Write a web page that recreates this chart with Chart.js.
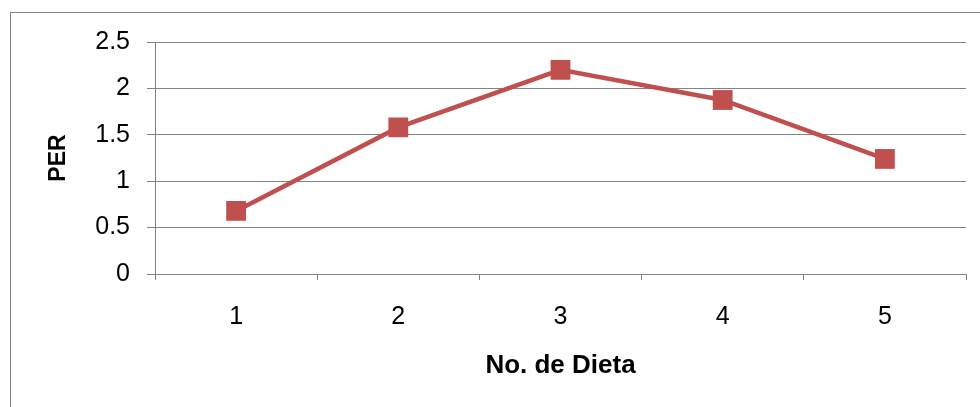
<!DOCTYPE html>
<html>
<head>
<meta charset="utf-8">
<script src="https://cdn.jsdelivr.net/npm/chart.js@4/dist/chart.umd.min.js"></script>
<style>
  html, body { margin: 0; padding: 0; background: #fff; overflow: hidden; }
  #wrap { position: relative; width: 980px; height: 407px; }
  #frame { position: absolute; left: 10px; top: 12px; width: 1000px; height: 500px;
           border: 1px solid #828282; box-sizing: border-box; }
  #c { position: absolute; left: 0; top: 0; }
</style>
</head>
<body>
<div id="wrap">
  <div id="frame"></div>
  <canvas id="c" width="980" height="407"></canvas>
</div>
<script>
// Diet numbers and their protein efficiency ratio
const dietas = ['1', '2', '3', '4', '5'];
const perValues = [0.68, 1.58, 2.20, 1.875, 1.24];
const yTicks = [0, 0.5, 1, 1.5, 2, 2.5];

const axisGray = '#828282';
const seriesRed = '#C0504D';
const fontFamily = '"Liberation Sans", Arial, sans-serif';

new Chart(document.getElementById('c'), {
  type: 'line',
  data: {
    labels: dietas,
    datasets: [{
      data: perValues,
      borderColor: seriesRed,
      backgroundColor: seriesRed,
      borderWidth: 4.5,
      pointStyle: 'rect',
      pointRadius: 14,
      pointBorderWidth: 0,
      pointBackgroundColor: seriesRed,
      tension: 0,
      fill: false
    }]
  },
  options: {
    responsive: false,
    animation: false,
    devicePixelRatio: 1,
    layout: { padding: { top: 42, right: 14, left: 0, bottom: 0 }, autoPadding: false },
    plugins: { legend: { display: false }, tooltip: { enabled: false } },
    scales: {
      x: {
        offset: true,
        afterFit: s => { s.height = 133; },
        grid: { offset: true, drawOnChartArea: false, tickLength: 6, color: axisGray, lineWidth: 1 },
        border: { color: axisGray, width: 1 },
        ticks: { color: '#000', padding: 22, font: { family: fontFamily, size: 25 } },
        title: { display: true, text: 'No. de Dieta', color: '#000',
                 font: { family: fontFamily, size: 26, weight: 'bold' },
                 padding: { top: 0, bottom: 26 } }
      },
      y: {
        min: 0, max: 2.5,
        afterFit: s => { s.width = 155; },
        afterBuildTicks: s => { s.ticks = yTicks.map(v => ({ value: v })); },
        grid: { tickLength: 8, color: axisGray, lineWidth: 1 },
        border: { color: axisGray, width: 1 },
        ticks: { color: '#000', padding: 17, font: { family: fontFamily, size: 25 },
                 callback: v => String(v) },
        title: { display: true, text: 'PER', color: '#000',
                 font: { family: fontFamily, size: 23, weight: 'bold' },
                 padding: { top: 45, bottom: 0 } }
      }
    }
  }
});
</script>
</body>
</html>
